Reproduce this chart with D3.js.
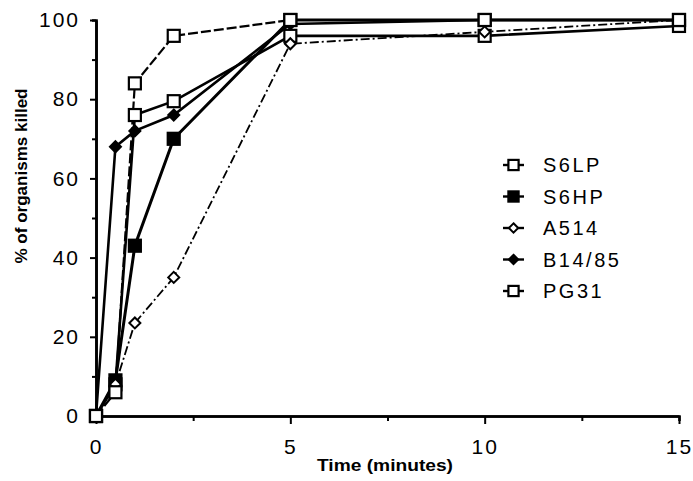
<!DOCTYPE html>
<html>
<head>
<meta charset="utf-8">
<script src="https://cdn.jsdelivr.net/npm/d3@7"></script>
<style>
  html, body { margin: 0; padding: 0; background: #fff; }
  svg { display: block; }
</style>
</head>
<body>
<svg id="chart" width="693" height="481"></svg>
<script>
// Time points (minutes) at which killing was measured
const times = [0, 0.5, 1, 2, 5, 10, 15];

// Percentage of organisms killed for each strain
const s6lp   = [0, 8, 76, 79.5, 96, 96, 98.5];
const s6hp   = [0, 9, 43, 70, 100, 100, 100];
const a514   = [0, 8, 23.5, 35, 94, 97, 100];
const b1485  = [0, 68, 72, 76, 99, 100, 100];
const pg31   = [0, 6, 84, 96, 100, 100, 100];

const seriesNames = ["S6LP", "S6HP", "A514", "B14/85", "PG31"];
const seriesValues = [s6lp, s6hp, a514, b1485, pg31];

const xTicks = [0, 5, 10, 15];
const yTicks = [0, 20, 40, 60, 80, 100];

// Drawing styles per strain: marker shape, fill, line width, dash
const styles = {
  "S6LP":   { shape: "square",  fill: "#fff", width: 2.6, dash: null },
  "S6HP":   { shape: "square",  fill: "#000", width: 3,   dash: null },
  "A514":   { shape: "diamond", fill: "#fff", width: 1.8, dash: "9,3,2,3" },
  "B14/85": { shape: "diamond", fill: "#000", width: 2.6, dash: null },
  "PG31":   { shape: "square",  fill: "#fff", width: 2.2, dash: "10,3" }
};

const svg = d3.select("#chart");
const x = d3.scaleLinear().domain([0, 15]).range([96, 679]);
const y = d3.scaleLinear().domain([0, 100]).range([416, 20]);

const ink = "#000";
const tickFont = "'Liberation Sans', Arial, sans-serif";

// Axes
const xAxis = svg.append("g").attr("transform", `translate(0,${y(0)})`);
xAxis.call(d3.axisBottom(x).tickValues(xTicks).tickSize(8).tickSizeOuter(0).tickPadding(10));
xAxis.append("g").call(d3.axisBottom(x).tickValues([2.5, 7.5, 12.5]).tickSize(5).tickFormat(""));
const yAxis = svg.append("g").attr("transform", `translate(${x(0)},0)`);
yAxis.call(d3.axisLeft(y).tickValues(yTicks).tickSize(6).tickSizeOuter(0).tickPadding(10));
yAxis.append("g").call(d3.axisLeft(y).tickValues([10, 30, 50, 70, 90]).tickSize(4).tickFormat(""));

svg.selectAll(".domain").attr("stroke", ink).attr("stroke-width", 2.6);
svg.selectAll(".tick line").attr("stroke", ink).attr("stroke-width", 2);
svg.selectAll(".tick text")
  .attr("fill", ink)
  .style("font-family", tickFont)
  .style("font-size", "21px")
  .style("letter-spacing", "2px");
xAxis.selectAll(".tick text").attr("dy", "0.95em");

// Axis titles
svg.append("text")
  .attr("x", 385).attr("y", 471)
  .attr("text-anchor", "middle")
  .attr("textLength", 136).attr("lengthAdjust", "spacingAndGlyphs")
  .style("font-family", tickFont).style("font-weight", "bold").style("font-size", "17px")
  .text("Time (minutes)");

svg.append("text")
  .attr("transform", "translate(27,176) rotate(-90)")
  .attr("text-anchor", "middle")
  .attr("textLength", 175).attr("lengthAdjust", "spacingAndGlyphs")
  .style("font-family", tickFont).style("font-weight", "bold").style("font-size", "16px")
  .text("% of organisms killed");

// Marker drawing helper
function drawMarker(g, shape, fill, cx, cy, scale) {
  if (shape === "square") {
    const s = 12 * scale;
    g.append("rect")
      .attr("x", cx - s / 2).attr("y", cy - s / 2)
      .attr("width", s).attr("height", s)
      .attr("fill", fill).attr("stroke", ink).attr("stroke-width", 2.2);
  } else {
    const r = 5.5 * scale;
    g.append("path")
      .attr("d", `M${cx},${cy - r}L${cx + r},${cy}L${cx},${cy + r}L${cx - r},${cy}Z`)
      .attr("fill", fill).attr("stroke", ink).attr("stroke-width", 2);
  }
}

const line = d3.line().x(d => x(d[0])).y(d => y(d[1]));
const plot = svg.append("g");

seriesNames.forEach((name, i) => {
  const st = styles[name];
  const pts = times.map((t, j) => [t, seriesValues[i][j]]);
  plot.append("path")
    .datum(pts)
    .attr("d", line)
    .attr("fill", "none")
    .attr("stroke", ink)
    .attr("stroke-width", st.width)
    .attr("stroke-dasharray", st.dash);
});

seriesNames.forEach((name, i) => {
  const st = styles[name];
  const g = plot.append("g");
  times.forEach((t, j) => drawMarker(g, st.shape, st.fill, x(t), y(seriesValues[i][j]), 1));
});

// Legend
const legend = svg.append("g");
seriesNames.forEach((name, i) => {
  const st = styles[name];
  const ly = 165 + i * 31.5;
  legend.append("line")
    .attr("x1", 503).attr("x2", 524).attr("y1", ly).attr("y2", ly)
    .attr("stroke", ink).attr("stroke-width", 2.4);
  drawMarker(legend, st.shape, st.fill, 513.5, ly, 0.85);
  legend.append("text")
    .attr("x", 543).attr("y", ly).attr("dy", "0.36em")
    .style("font-family", tickFont).style("font-size", "20px")
    .style("letter-spacing", "2.5px")
    .attr("fill", ink)
    .text(name);
});
</script>
</body>
</html>
